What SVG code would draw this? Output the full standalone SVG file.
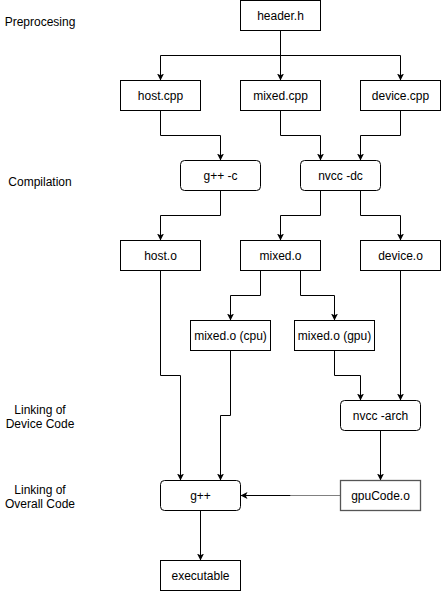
<svg xmlns="http://www.w3.org/2000/svg" width="441" height="591" viewBox="0 0 441 591">
<defs>
<style>
.n rect{fill:#fff;stroke:#000;stroke-width:1}
text{font-family:"Liberation Sans",Arial,Helvetica,sans-serif;font-size:12px;fill:#000;text-anchor:middle}
.e path{fill:none;stroke:#000;stroke-width:1}
</style>
<marker id="a" markerWidth="8" markerHeight="8" refX="7" refY="4" orient="auto" markerUnits="userSpaceOnUse"><path d="M0,0.5 L7,4 L0,7.5 L1.75,4 Z" fill="#000"/></marker>
</defs>
<rect width="441" height="591" fill="#fff"/>
<g id="labels">
<text x="40" y="26">Preprocesing</text>
<text x="40" y="186">Compilation</text>
<text x="40" y="414">Linking of</text>
<text x="40" y="428">Device Code</text>
<text x="40" y="494">Linking of</text>
<text x="40" y="508">Overall Code</text>
</g>
<g class="e" id="connectors">
<path d="M280.5,30.5 V55.5 H160.5 V80.5" marker-end="url(#a)"/>
<path d="M280.5,30.5 V80.5" marker-end="url(#a)"/>
<path d="M280.5,30.5 V55.5 H400.5 V80.5" marker-end="url(#a)"/>
<path d="M160.5,110.5 V135.5 H220.5 V160.5" marker-end="url(#a)"/>
<path d="M280.5,110.5 V135.5 H320.5 V160.5" marker-end="url(#a)"/>
<path d="M400.5,110.5 V135.5 H360.5 V160.5" marker-end="url(#a)"/>
<path d="M220.5,190.5 V215.5 H160.5 V240.5" marker-end="url(#a)"/>
<path d="M320.5,190.5 V215.5 H280.5 V240.5" marker-end="url(#a)"/>
<path d="M360.5,190.5 V215.5 H400.5 V240.5" marker-end="url(#a)"/>
<path d="M260.5,270.5 V295.5 H230.5 V320.5" marker-end="url(#a)"/>
<path d="M300.5,270.5 V295.5 H334.5 V320.5" marker-end="url(#a)"/>
<path d="M160.5,270.5 V375.5 H180.5 V480.5" marker-end="url(#a)"/>
<path d="M230.5,350.5 V415.5 H220.5 V480.5" marker-end="url(#a)"/>
<path d="M334.5,350.5 V375.5 H360.5 V400.5" marker-end="url(#a)"/>
<path d="M400.5,270.5 V400.5" marker-end="url(#a)"/>
<path d="M380.5,430.5 V480.5" marker-end="url(#a)"/>
<path d="M340.5,495.5 H290.5" style="stroke:#808080"/>
<path d="M290.5,495.5 H240.5" marker-end="url(#a)"/>
<path d="M200.5,510.5 V560.5" marker-end="url(#a)"/>
</g>
<g class="n" id="header_h"><rect x="240.5" y="0.5" width="80" height="30"/><text x="280.5" y="20">header.h</text></g>
<g class="n" id="host_cpp"><rect x="120.5" y="80.5" width="80" height="30"/><text x="160.5" y="100">host.cpp</text></g>
<g class="n" id="mixed_cpp"><rect x="240.5" y="80.5" width="80" height="30"/><text x="280.5" y="100">mixed.cpp</text></g>
<g class="n" id="device_cpp"><rect x="360.5" y="80.5" width="80" height="30"/><text x="400.5" y="100">device.cpp</text></g>
<g class="n" id="gpp_c"><rect x="180.5" y="160.5" width="80" height="30" rx="4"/><text x="220.5" y="180">g++ -c</text></g>
<g class="n" id="nvcc_dc"><rect x="300.5" y="160.5" width="80" height="30" rx="4"/><text x="340.5" y="180">nvcc -dc</text></g>
<g class="n" id="host_o"><rect x="120.5" y="240.5" width="80" height="30"/><text x="160.5" y="260">host.o</text></g>
<g class="n" id="mixed_o"><rect x="240.5" y="240.5" width="80" height="30"/><text x="280.5" y="260">mixed.o</text></g>
<g class="n" id="device_o"><rect x="360.5" y="240.5" width="80" height="30"/><text x="400.5" y="260">device.o</text></g>
<g class="n" id="mixed_o_cpu"><rect x="190.5" y="320.5" width="80" height="30"/><text x="230.5" y="340">mixed.o (cpu)</text></g>
<g class="n" id="mixed_o_gpu"><rect x="294.5" y="320.5" width="80" height="30"/><text x="334.5" y="340">mixed.o (gpu)</text></g>
<g class="n" id="nvcc_arch"><rect x="340.5" y="400.5" width="80" height="30" rx="4"/><text x="380.5" y="420">nvcc -arch</text></g>
<g class="n" id="gpp"><rect x="160.5" y="480.5" width="80" height="30" rx="4"/><text x="200.5" y="500">g++</text></g>
<g class="n" id="gpuCode_o"><rect x="340.5" y="480.5" width="80" height="30" style="stroke:#555;stroke-width:1.3"/><text x="380.5" y="500">gpuCode.o</text></g>
<g class="n" id="executable"><rect x="160.5" y="560.5" width="80" height="30"/><text x="200.5" y="580">executable</text></g>
</svg>
